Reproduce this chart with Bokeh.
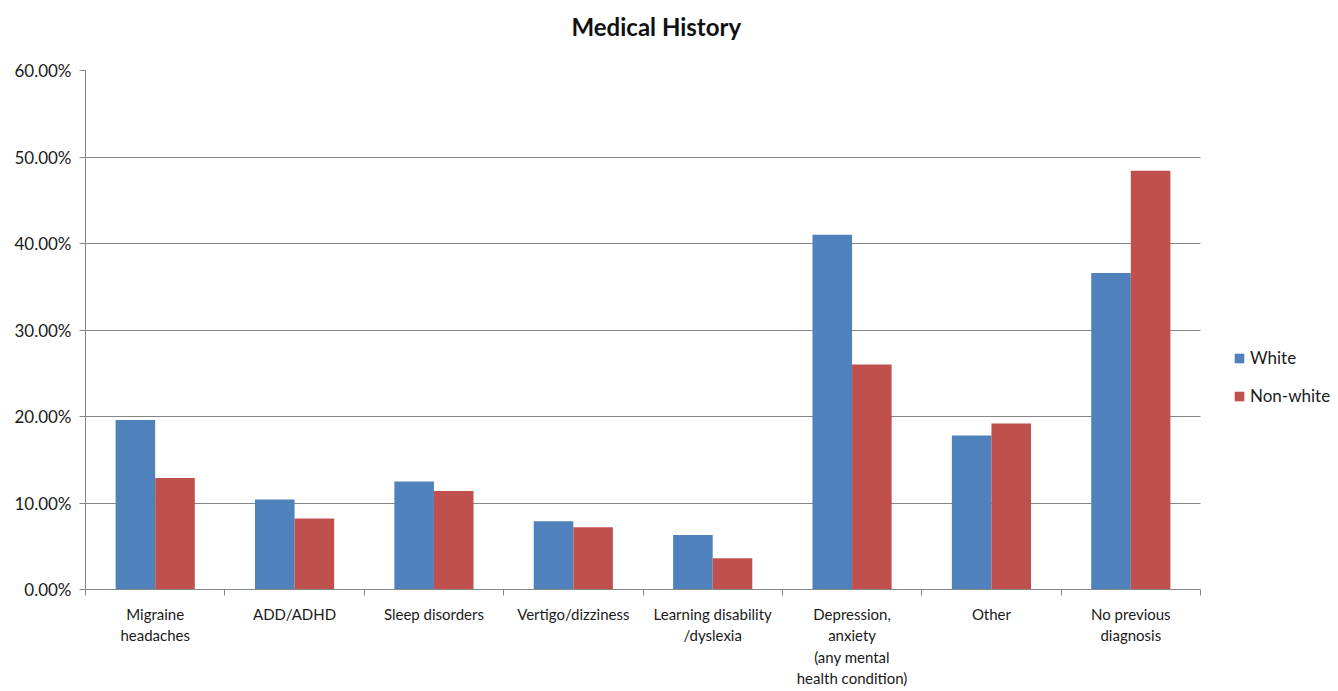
import numpy as np
from bokeh.plotting import figure
from bokeh.models import (ColumnDataSource, FixedTicker, PrintfTickFormatter, Range1d,
                          Legend, LegendItem, Grid, Title)
from bokeh.transform import dodge
from bokeh.embed import file_html
from bokeh.resources import INLINE

categories = ["Migraine\nheadaches", "ADD/ADHD", "Sleep disorders", "Vertigo/dizziness",
              "Learning disability\n/dyslexia", "Depression,\nanxiety\n(any mental\nhealth condition)",
              "Other", "No previous\ndiagnosis"]
white = [19.6, 10.4, 12.5, 7.9, 6.3, 41.0, 17.8, 36.6]
non_white = [12.9, 8.2, 11.4, 7.2, 3.6, 26.0, 19.2, 48.4]
y_ticks = [0, 10, 20, 30, 40, 50, 60]
title_text = "Medical History"

n = len(categories)
pos = np.arange(n) + 0.5
src = ColumnDataSource(dict(x=pos, white=white, non_white=non_white))

FONT = "Lato"
W, H = 1330, 690
ML, MT = 85, 70
plot_px = 1115                      # pixel width taken by the 8 categories
frame_w = W - ML
x_end = n * frame_w / plot_px       # extra room on the right for the legend

p = figure(width=W, height=H, output_backend="svg", toolbar_location=None,
           x_range=Range1d(0, x_end), y_range=Range1d(0, 60),
           title=None,
           min_border_left=ML, min_border_right=0, min_border_top=MT, min_border_bottom=60)

bw = 0.284
r1 = p.vbar(x=dodge("x", -bw / 2, range=p.x_range), top="white", width=bw, source=src,
            fill_color="#4F81BD", line_color=None)
r2 = p.vbar(x=dodge("x", bw / 2, range=p.x_range), top="non_white", width=bw, source=src,
            fill_color="#C0504D", line_color=None)

# spacer between title and frame, then the title itself
p.add_layout(Title(text=" ", text_font=FONT, text_font_size="15px", standoff=0), "above")
p.add_layout(Title(text=title_text, align="left", offset=486, standoff=19,
                   text_font=FONT, text_font_size="24px", text_font_style="bold",
                   text_color="#111111"), "above")

p.outline_line_color = None
p.background_fill_color = "white"

# x axis
xa = p.xaxis[0]
xa.bounds = (0, n)
xa.ticker = FixedTicker(ticks=list(pos), minor_ticks=list(range(n + 1)))
xa.major_label_overrides = {float(x): c for x, c in zip(pos, categories)}
xa.major_tick_line_color = None
xa.major_tick_in = 0
xa.major_tick_out = 0
xa.minor_tick_in = 0
xa.minor_tick_out = 6
xa.minor_tick_line_color = "#868686"
xa.axis_line_color = "#868686"
xa.major_label_text_font = FONT
xa.major_label_text_font_size = "15px"
xa.major_label_text_color = "#1a1a1a"
xa.major_label_standoff = 9

# y axis
ya = p.yaxis[0]
ya.ticker = FixedTicker(ticks=y_ticks)
ya.formatter = PrintfTickFormatter(format="%.2f%%")
ya.minor_tick_line_color = None
ya.major_tick_in = 0
ya.major_tick_out = 6
ya.major_tick_line_color = "#868686"
ya.axis_line_color = "#868686"
ya.major_label_text_font = FONT
ya.major_label_text_font_size = "17px"
ya.major_label_text_color = "#1a1a1a"
ya.major_label_standoff = 8

p.xgrid.grid_line_color = None
p.ygrid.grid_line_color = "#868686"
p.ygrid.grid_line_width = 1
if "cross_bounds" in Grid.properties():
    p.ygrid.cross_bounds = (0, n)

legend = Legend(items=[LegendItem(label="White", renderers=[r1]),
                       LegendItem(label="Non-white", renderers=[r2])],
                location=(1148, 183), orientation="vertical",
                label_text_font=FONT, label_text_font_size="17px", label_text_color="#1a1a1a",
                glyph_width=12, glyph_height=12, spacing=17, padding=0, margin=0,
                border_line_color=None, background_fill_alpha=0)
p.add_layout(legend)

open("out.html", "w").write(file_html(p, INLINE))
